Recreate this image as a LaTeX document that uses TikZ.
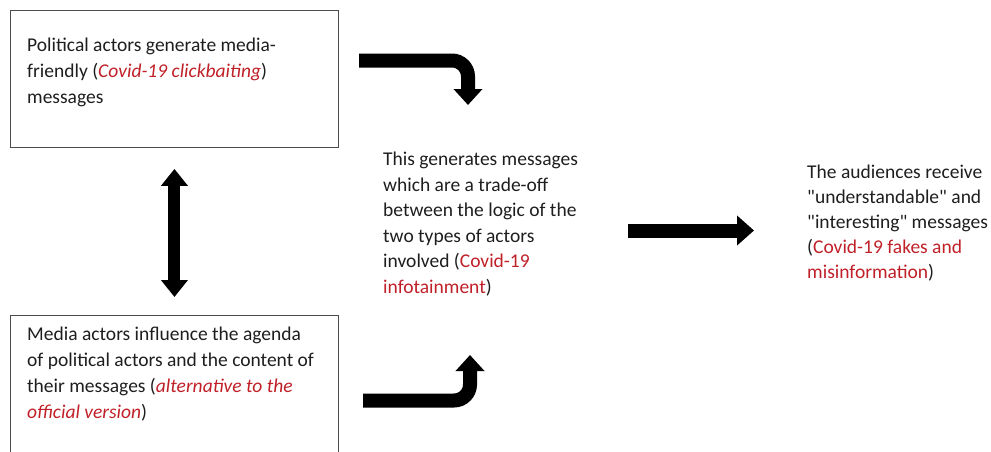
\documentclass[tikz,border=0pt]{standalone}
\usepackage{fontspec}
\setmainfont{Carlito}
\usetikzlibrary{arrows.meta}
\definecolor{covidred}{RGB}{192,32,40}
\definecolor{inkgray}{RGB}{30,30,30}
\tikzset{%
    box/.style={draw=black!70, line width=0.9pt, anchor=north west,
        minimum width=328pt, minimum height=137pt, inner sep=0pt},
    txt/.style={anchor=north west, align=left, inner sep=0pt, text=inkgray,
        font=\fontsize{19.5}{26}\selectfont},
    fat/.style={line width=14pt, line cap=butt, rounded corners=16pt}
}
\newcommand{\hl}[1]{\textcolor{covidred}{#1}}
\newcommand{\qq}[1]{\textquotedbl#1\textquotedbl}

\begin{document}
\begin{tikzpicture}[x=1pt,y=-1pt]
\useasboundingbox (0,0) rectangle (991,451);
\node[box] (polbox) at (10,10) {};
\node[box, minimum height=140pt] (medbox) at (10,315) {};
\node[txt] (poltext) at (27,38) {Political actors generate media-\\friendly (\hl{\textit{Covid-19 clickbaiting}})\\messages};
\node[txt] (medtext) at (27,327) {Media actors influence the agenda\\of political actors and the content of\\their messages (\hl{\textit{alternative to the}}\\\hl{\textit{official version}})};
\node[txt, font=\fontsize{19.5}{25.5}\selectfont] (tradetext) at (383,152) {This generates messages\\which are a trade-off\\between the logic of the\\two types of actors\\involved (\hl{Covid-19}\\\hl{infotainment})};
\node[txt, font=\fontsize{19.5}{25}\selectfont] (audtext) at (807,165) {The audiences receive\\\qq{understandable} and\\\qq{interesting} messages\\(\hl{Covid-19 fakes and}\\\hl{misinformation})};
\coordinate (topstart) at (359,60.5);
\coordinate (topend) at (468,105);
\coordinate (botstart) at (363,400.5);
\coordinate (botend) at (470,355);
\coordinate (midstart) at (628,230.5);
\coordinate (midend) at (754,230.5);
\draw[fat,-{Triangle[width=28pt,length=16pt]}] (topstart) -| (topend);
\draw[fat,-{Triangle[width=28pt,length=16pt]}] (botstart) -| (botend);
\draw[fat,-{Triangle[width=29pt,length=17pt]}] (midstart) -- (midend);
\draw[line width=12pt,{Triangle[width=26pt,length=17pt]}-{Triangle[width=26pt,length=17pt]}] ([yshift=-21pt]polbox.south) -- ([yshift=18pt]medbox.north);
\end{tikzpicture}
\end{document}
